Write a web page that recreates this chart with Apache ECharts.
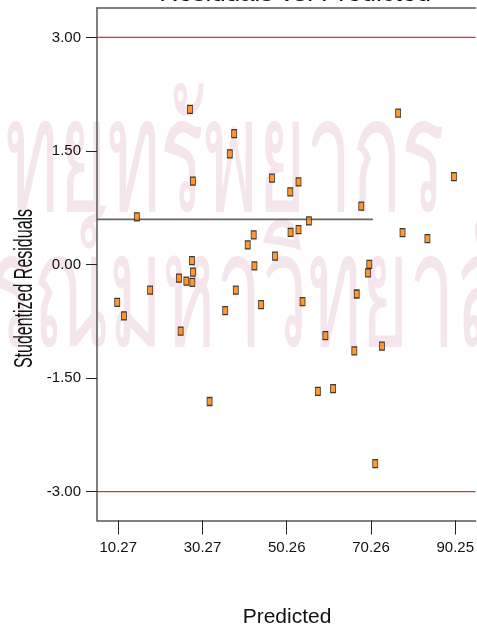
<!DOCTYPE html>
<html>
<head>
<meta charset="utf-8">
<script src="https://cdn.jsdelivr.net/npm/echarts@6/dist/echarts.min.js"></script>
<style>
  html, body { margin: 0; padding: 0; background: #fff; }
  #chart { width: 477px; height: 628px; }
</style>
</head>
<body>
<div id="chart"></div>
<script>
// Predicted values and studentized residuals of each run
const predicted = [
  27.29, 37.79, 36.75, 27.99, 46.77, 14.69, 76.70, 53.06, 51.10, 89.94,
  67.95, 55.52, 42.42, 41.00, 47.48, 27.76, 42.59, 27.99, 24.69, 26.44,
  27.86, 17.84, 38.17, 10.03, 44.17, 35.66, 11.62, 25.09, 51.17, 53.06,
  77.74, 83.65, 69.85, 69.54, 66.87, 54.01, 59.44, 66.30, 72.85, 31.95,
  57.65, 61.26, 71.26
];
const residuals = [
  2.05, 1.73, 1.46, 1.10, 1.14, 0.63, 2.00, 1.09, 0.96, 1.16,
  0.77, 0.575, 0.39, 0.26, 0.11, 0.05, -0.02, -0.10, -0.18, -0.22,
  -0.235, -0.34, -0.34, -0.50, -0.53, -0.61, -0.68, -0.88, 0.425, 0.46,
  0.42, 0.34, 0.00, -0.11, -0.39, -0.49, -0.94, -1.14, -1.08, -1.81,
  -1.675, -1.64, -2.63
];

// Axis ticks
const xTicks = [10.27, 30.27, 50.26, 70.26, 90.25];
const yTicks = [-3.00, -1.50, 0.00, 1.50, 3.00];

// Outlier limits and reference line
const limitLines = [3.00, -3.00];
const refLevel = 0.597;
const refEnd = 70.72;

const xMin = 5.234, xMax = 95.07;
const yMin = -3.382, yMax = 3.388;

const points = predicted.map((p, i) => [p, residuals[i]]);

const FONT = '"Liberation Sans", Arial, sans-serif';
const WM_FONT = '160px "Noto Sans", "DejaVu Sans", sans-serif';
const WM_COLOR = '#f5e6ed';

const chart = echarts.init(document.getElementById('chart'), null, { renderer: 'canvas' });

const limitSeries = limitLines.map(v => ({
  type: 'line',
  data: [[xMin, v], [xMax, v]],
  symbol: 'none',
  silent: true,
  lineStyle: { color: '#ee2b2b', width: 1.4 },
  z: 3
}));

chart.setOption({
  backgroundColor: '#ffffff',
  animation: false,
  grid: { left: 97, top: 8, right: 0, bottom: 107.5 },
  xAxis: [{
    type: 'value', min: xMin, max: xMax, position: 'bottom', z: 4,
    splitLine: { show: false },
    axisLine: { show: true, onZero: false, lineStyle: { color: '#555', width: 1.5 } },
    axisTick: { show: true, length: 14, customValues: xTicks, lineStyle: { color: '#222', width: 1 } },
    axisLabel: {
      customValues: xTicks, margin: 20, color: '#111', fontSize: 15, fontFamily: FONT,
      formatter: v => v.toFixed(2)
    }
  }, {
    type: 'value', min: xMin, max: xMax, position: 'top', z: 4,
    splitLine: { show: false },
    axisLine: { show: true, onZero: false, lineStyle: { color: '#555', width: 1.5 } },
    axisTick: { show: false }, axisLabel: { show: false }
  }],
  yAxis: {
    type: 'value', min: yMin, max: yMax, z: 4,
    splitLine: { show: false },
    axisLine: { show: true, onZero: false, lineStyle: { color: '#555', width: 1.5 } },
    axisTick: { show: true, length: 11, customValues: yTicks, lineStyle: { color: '#222', width: 1 } },
    axisLabel: {
      customValues: yTicks, margin: 16, color: '#111', fontSize: 15, fontFamily: FONT,
      formatter: v => v.toFixed(2)
    }
  },
  series: [
    ...limitSeries,
    {
      type: 'line',
      data: [[xMin, refLevel], [refEnd, refLevel]],
      symbol: 'none',
      silent: true,
      lineStyle: { color: '#666', width: 1.8 },
      z: 3
    },
    {
      type: 'scatter',
      data: points,
      symbol: 'rect',
      symbolSize: [5, 8],
      itemStyle: { color: '#ff8000', borderColor: '#111', borderWidth: 1 },
      z: 5
    }
  ],
  graphic: {
    elements: [
      // faint institutional watermark behind the plot
      {
        type: 'text', z: -1, silent: true,
        x: 445, y: 245, scaleX: 0.51,
        style: {
          text: 'ศูนย์วิทยทรัพยากร', fill: WM_COLOR,
          font: WM_FONT, align: 'right', verticalAlign: 'bottom'
        }
      },
      {
        type: 'text', z: -1, silent: true,
        x: 553, y: 380, scaleX: 0.51,
        style: {
          text: 'จุฬาลงกรณ์มหาวิทยาลัย', fill: WM_COLOR,
          font: WM_FONT, align: 'right', verticalAlign: 'bottom'
        }
      },
      {
        type: 'text', z: 10, silent: true,
        x: 295, y: 7,
        style: {
          text: 'Residuals vs. Predicted', fill: '#111',
          font: '26px ' + FONT, align: 'center', verticalAlign: 'bottom'
        }
      },
      {
        type: 'text', z: 10, silent: true,
        x: 287, y: 617,
        style: {
          text: 'Predicted', fill: '#111',
          font: '21px ' + FONT, align: 'center', verticalAlign: 'middle'
        }
      },
      {
        type: 'text', z: 10, silent: true,
        x: 25, y: 288.5, rotation: Math.PI / 2, scaleX: 0.64,
        style: {
          text: 'Studentized Residuals', fill: '#111',
          font: '25px ' + FONT, align: 'center', verticalAlign: 'middle'
        }
      }
    ]
  }
});
</script>
</body>
</html>
